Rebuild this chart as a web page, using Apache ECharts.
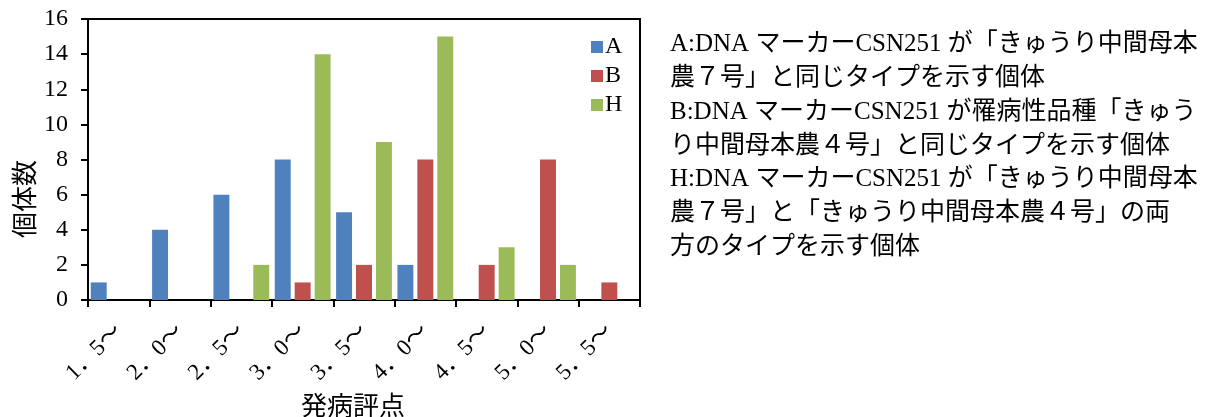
<!DOCTYPE html>
<html>
<head>
<meta charset="utf-8">
<script src="https://cdn.jsdelivr.net/npm/echarts@6/dist/echarts.min.js"></script>
<style>
  html, body { margin: 0; padding: 0; background: #fff; }
  #chart { width: 1216px; height: 417px; }
</style>
</head>
<body>
<div id="chart"></div>
<script>
// 発病評点の階級
const categories = ['1．5～', '2．0～', '2．5～', '3．0～', '3．5～', '4．0～', '4．5～', '5．0～', '5．5～'];
// DNA マーカー型ごとの個体数
const seriesA = [1, 4, 6, 8, 5, 2, 0, 0, 0];
const seriesB = [0, 0, 0, 1, 2, 8, 2, 8, 1];
const seriesH = [0, 0, 2, 14, 9, 15, 3, 2, 0];
const seriesNames = ['A', 'B', 'H'];
const colors = ['#4F81BD', '#C0504D', '#9BBB59'];

const yAxisName = '個体数';
const xAxisName = '発病評点';
const noteLines = [
  'A:DNA マーカーCSN251 が「きゅうり中間母本',
  '農７号」と同じタイプを示す個体',
  'B:DNA マーカーCSN251 が罹病性品種「きゅう',
  'り中間母本農４号」と同じタイプを示す個体',
  'H:DNA マーカーCSN251 が「きゅうり中間母本',
  '農７号」と「きゅうり中間母本農４号」の両',
  '方のタイプを示す個体'
];

const serif = "'Liberation Serif', 'Noto Sans CJK JP', serif";

const chart = echarts.init(document.getElementById('chart'), null, { renderer: 'canvas' });

const barSeries = [seriesA, seriesB, seriesH].map((data, i) => ({
  name: seriesNames[i],
  type: 'bar',
  data: data,
  barGap: '25%',
  barCategoryGap: '9%',
  itemStyle: { color: colors[i] },
  silent: true
}));

chart.setOption({
  animation: false,
  color: colors,
  grid: {
    left: 88, right: 576, top: 19, bottom: 117,
    show: true, borderColor: '#000', borderWidth: 2, backgroundColor: 'transparent'
  },
  legend: {
    orient: 'vertical',
    left: 586, top: 30,
    itemWidth: 12, itemHeight: 12, itemGap: 5,
    icon: 'rect',
    textStyle: { fontFamily: serif, fontSize: 24, color: '#000', lineHeight: 24, padding: [0, 0, 0, -3] },
    data: seriesNames
  },
  xAxis: {
    type: 'category',
    data: categories,
    boundaryGap: true,
    axisLine: { lineStyle: { color: '#000', width: 2 } },
    axisTick: { show: true, length: 7, lineStyle: { color: '#000', width: 2 } },
    axisLabel: {
      rotate: 45, margin: 28, interval: 0,
      fontFamily: serif, fontSize: 23, color: '#000'
    },
    splitLine: { show: false }
  },
  yAxis: {
    type: 'value',
    min: 0, max: 16, interval: 2,
    axisLine: { show: true, lineStyle: { color: '#000', width: 2 } },
    axisTick: { show: true, length: 7, lineStyle: { color: '#000', width: 2 } },
    axisLabel: { margin: 20, fontFamily: serif, fontSize: 24, color: '#000' },
    splitLine: { show: false }
  },
  graphic: [
    {
      type: 'text', x: 24, y: 199, rotation: Math.PI / 2,
      style: {
        text: yAxisName, fill: '#000', align: 'center', verticalAlign: 'middle',
        font: "26px 'Noto Sans CJK JP', sans-serif"
      }
    },
    {
      type: 'text', x: 353, y: 405,
      style: {
        text: xAxisName, fill: '#000', align: 'center', verticalAlign: 'middle',
        font: "26px 'Noto Sans CJK JP', sans-serif"
      }
    },
    {
      type: 'text', x: 670, y: 28,
      style: {
        text: noteLines.join('\n'), fill: '#000', align: 'left', verticalAlign: 'top',
        fontSize: 25, fontFamily: serif, lineHeight: 33.7
      }
    }
  ],
  series: barSeries
});
</script>
</body>
</html>
